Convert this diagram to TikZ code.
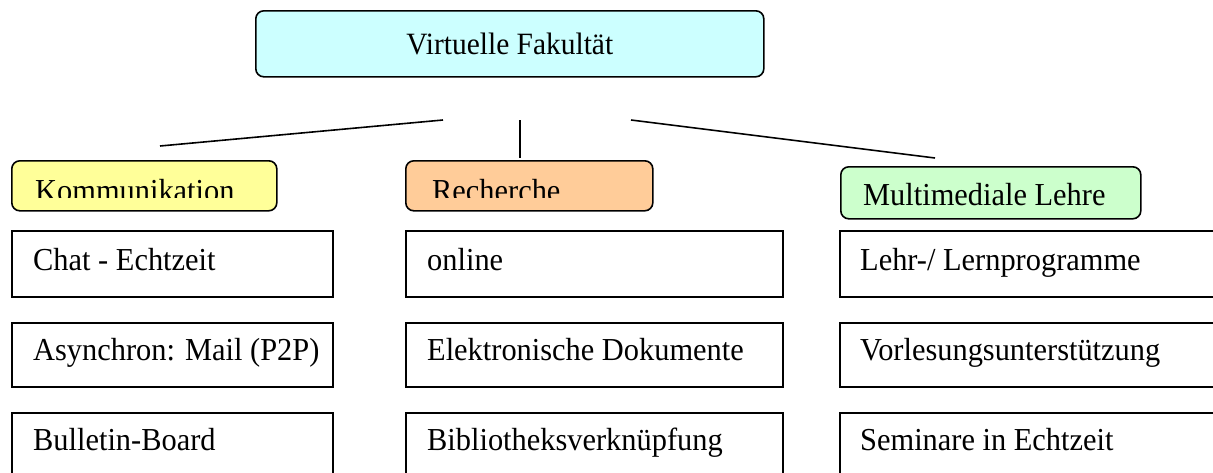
\documentclass[tikz,border=0pt]{standalone}
\usepackage{fontspec}
\setmainfont[FakeStretch=0.95]{Liberation Serif}
\definecolor{topfill}{HTML}{CCFFFF}
\definecolor{komfill}{HTML}{FFFF99}
\definecolor{recfill}{HTML}{FFCC99}
\definecolor{mulfill}{HTML}{CCFFCC}
\tikzset{
  catbox/.style={draw, line width=1.6pt, rounded corners=8pt, anchor=north west, inner sep=0pt},
  itembox/.style={draw, line width=1.6pt, anchor=north west, inner sep=0pt, fill=white},
  txt/.style={anchor=base west, inner sep=0pt, font=\fontsize{32}{38}\selectfont},
  conn/.style={line width=1.6pt}
}
\begin{document}
\begin{tikzpicture}[x=1pt,y=-1pt]
\clip (0,0) rectangle (1213,472);
\fill[white] (0,0) rectangle (1213,472);

% top box
\node[catbox, fill=topfill, minimum width=508pt, minimum height=66pt,
      font=\fontsize{31}{36}\selectfont] (top) at (255,10) {Virtuelle Fakultät};

% connectors
\coordinate (l1) at (443,120); \coordinate (l2) at (160,146);
\coordinate (m1) at (520,120); \coordinate (m2) at (520,158);
\coordinate (r1) at (631,120); \coordinate (r2) at (935,158);
\draw[conn] (l1) -- (l2);
\draw[conn] (m1) -- (m2);
\draw[conn] (r1) -- (r2);

% category boxes
\node[catbox, fill=komfill, minimum width=265pt, minimum height=50pt] (kom) at (11,160) {};
\node[catbox, fill=recfill, minimum width=247pt, minimum height=50pt] (rec) at (405,160) {};
\node[catbox, fill=mulfill, minimum width=300pt, minimum height=52pt] (mul) at (840,166) {};
\begin{scope}
  \clip (0,160) rectangle (1213,197);
  \node[txt] (komt) at (35,201) {Kommunikation};
  \node[txt] (rect) at (432,201) {Recherche};
\end{scope}
\node[txt] (mult) at (863,205) {Multimediale Lehre};

% item boxes column 1
\node[itembox, minimum width=321pt, minimum height=66pt] (a1) at (11,230) {};
\node[itembox, minimum width=321pt, minimum height=64pt] (a2) at (11,322) {};
\node[itembox, minimum width=321pt, minimum height=80pt] (a3) at (11,412) {};
\node[txt] (a1t) at (33,270) {Chat - Echtzeit};
\node[txt] (a2t) at (33,360) {Asynchron: Mail (P2P)};
\node[txt] (a3t) at (33,450) {Bulletin-Board};

% column 2
\node[itembox, minimum width=377pt, minimum height=66pt] (b1) at (405,230) {};
\node[itembox, minimum width=377pt, minimum height=64pt] (b2) at (405,322) {};
\node[itembox, minimum width=377pt, minimum height=80pt] (b3) at (405,412) {};
\node[txt] (b1t) at (427,270) {online};
\node[txt] (b2t) at (427,360) {Elektronische Dokumente};
\node[txt] (b3t) at (427,450) {Bibliotheksverknüpfung};

% column 3
\node[itembox, minimum width=400pt, minimum height=66pt] (c1) at (839,230) {};
\node[itembox, minimum width=400pt, minimum height=64pt] (c2) at (839,322) {};
\node[itembox, minimum width=400pt, minimum height=80pt] (c3) at (839,412) {};
\node[txt] (c1t) at (860,270) {Lehr-/ Lernprogramme};
\node[txt] (c2t) at (860,360) {Vorlesungsunterstützung};
\node[txt] (c3t) at (860,450) {Seminare in Echtzeit};
\end{tikzpicture}
\end{document}
